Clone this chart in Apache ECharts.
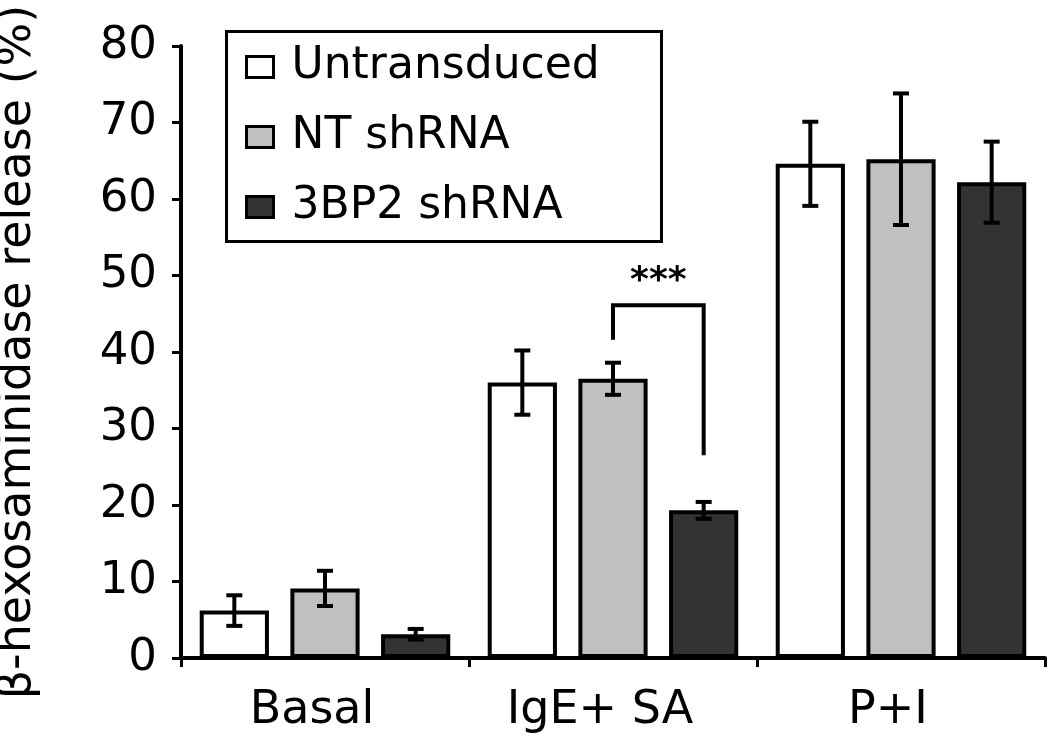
<!DOCTYPE html>
<html>
<head>
<meta charset="utf-8">
<script src="https://cdn.jsdelivr.net/npm/echarts@6/dist/echarts.min.js"></script>
<style>html,body{margin:0;padding:0;background:#fff;}#c{width:1050px;height:737px;}</style>
</head>
<body>
<div id="c"></div>
<script>
var categories = ['Basal', 'IgE+ SA', 'P+I'];
var seriesNames = ['Untransduced', 'NT shRNA', '3BP2 shRNA'];
var untransduced = [6.2, 36.0, 64.6];
var untransducedErr = [2.0, 4.2, 5.5];
var ntShRNA = [9.1, 36.5, 65.2];
var ntShRNAErr = [2.3, 2.1, 8.6];
var bp2ShRNA = [3.1, 19.3, 62.2];
var bp2ShRNAErr = [0.7, 1.1, 5.3];
var yTicks = [0, 10, 20, 30, 40, 50, 60, 70, 80];
// significance bracket: category index, from series, to series, top value, left foot, right foot, label
var sigCategory = [1];
var sigSeries = [1, 2];
var sigLevels = [46.1, 41.6, 26.5];
var sigLabel = ['***'];

var values = [untransduced, ntShRNA, bp2ShRNA];
var errors = [untransducedErr, ntShRNAErr, bp2ShRNAErr];
var fills = ['#ffffff', '#c0c0c0', '#333333'];
var CAT_GAP = 0.13, BAR_GAP = 0.31, NBARS = 3;
var FONT = 'DejaVu Sans';

function barOffset(api, s) {
  var band = api.size([1, 0])[0];
  var w = band * (1 - CAT_GAP) / (NBARS + (NBARS - 1) * BAR_GAP);
  var step = w * (1 + BAR_GAP);
  return (s - (NBARS - 1) / 2) * step;
}

var series = [];
seriesNames.forEach(function (name, s) {
  series.push({
    name: name, type: 'bar', data: values[s],
    barCategoryGap: (CAT_GAP * 100) + '%', barGap: (BAR_GAP * 100) + '%',
    itemStyle: { color: fills[s], borderColor: '#000', borderWidth: 4 },
    z: 2
  });
});
seriesNames.forEach(function (name, s) {
  series.push({
    type: 'custom', z: 5, silent: true,
    data: values[s].map(function (v, i) { return [i, v, errors[s][i]]; }),
    renderItem: function (params, api) {
      var c = api.value(0), v = api.value(1), e = api.value(2);
      var x = api.coord([c, 0])[0] + barOffset(api, s);
      var yt = api.coord([c, v + e])[1], yb = api.coord([c, v - e])[1];
      var cap = 8;
      var st = { stroke: '#000', lineWidth: 4 };
      return { type: 'group', children: [
        { type: 'line', shape: { x1: x, y1: yt, x2: x, y2: yb }, style: st },
        { type: 'line', shape: { x1: x - cap, y1: yt, x2: x + cap, y2: yt }, style: st },
        { type: 'line', shape: { x1: x - cap, y1: yb, x2: x + cap, y2: yb }, style: st }
      ]};
    }
  });
});
series.push({
  type: 'custom', z: 6, silent: true,
  data: [[sigCategory[0], sigLevels[0], sigLevels[1], sigLevels[2]]],
  renderItem: function (params, api) {
    var c = api.value(0);
    var base = api.coord([c, 0])[0];
    var x1 = base + barOffset(api, sigSeries[0]);
    var x2 = base + barOffset(api, sigSeries[1]);
    var yTop = api.coord([c, api.value(1)])[1];
    var yL = api.coord([c, api.value(2)])[1];
    var yR = api.coord([c, api.value(3)])[1];
    return { type: 'group', children: [
      { type: 'polyline', shape: { points: [[x1, yL], [x1, yTop], [x2, yTop], [x2, yR]] },
        style: { stroke: '#000', lineWidth: 4, fill: null } },
      { type: 'text', style: { text: sigLabel[0], x: (x1 + x2) / 2, y: yTop - 6,
        align: 'center', verticalAlign: 'bottom', fill: '#000',
        font: 'bold 36px "' + FONT + '"' } }
    ]};
  }
});

var chart = echarts.init(document.getElementById('c'), null, { renderer: 'canvas' });
chart.setOption({
  animation: false,
  backgroundColor: '#fff',
  grid: { left: 181, right: 5, top: 46, bottom: 79, containLabel: false, outerBoundsMode: 'none' },
  graphic: [{ type: 'rect', left: 225, top: 30, z: 1,
    shape: { width: 435, height: 210 }, style: { fill: '#fff', stroke: '#000', lineWidth: 3 } }],
  legend: {
    orient: 'vertical', left: 240, top: 36, itemGap: 18,
    itemWidth: 27, itemHeight: 21, icon: 'rect', z: 10,
    data: seriesNames,
    itemStyle: { borderWidth: 3, borderColor: '#000' },
    textStyle: { fontFamily: FONT, fontSize: 44, color: '#000', lineHeight: 52, padding: [0, 0, 0, 13] }
  },
  xAxis: {
    type: 'category', data: categories,
    axisLine: { lineStyle: { color: '#000', width: 4 } },
    axisTick: { show: true, length: 9, lineStyle: { color: '#000', width: 3 } },
    axisLabel: { fontFamily: FONT, fontSize: 46, color: '#000', margin: 30, padding: [0, 26, 0, 0] }
  },
  yAxis: {
    type: 'value', min: yTicks[0], max: yTicks[yTicks.length - 1], interval: yTicks[1] - yTicks[0],
    name: 'β-hexosaminidase release (%)', nameLocation: 'middle', nameGap: 140, nameRotate: 90,
    nameTextStyle: { fontFamily: FONT, fontSize: 46, color: '#000' },
    axisLine: { show: true, lineStyle: { color: '#000', width: 4 } },
    axisTick: { show: true, length: 9, lineStyle: { color: '#000', width: 3 } },
    axisLabel: { fontFamily: FONT, fontSize: 45, color: '#000', margin: 24 },
    splitLine: { show: false }
  },
  series: series
});
</script>
</body>
</html>
